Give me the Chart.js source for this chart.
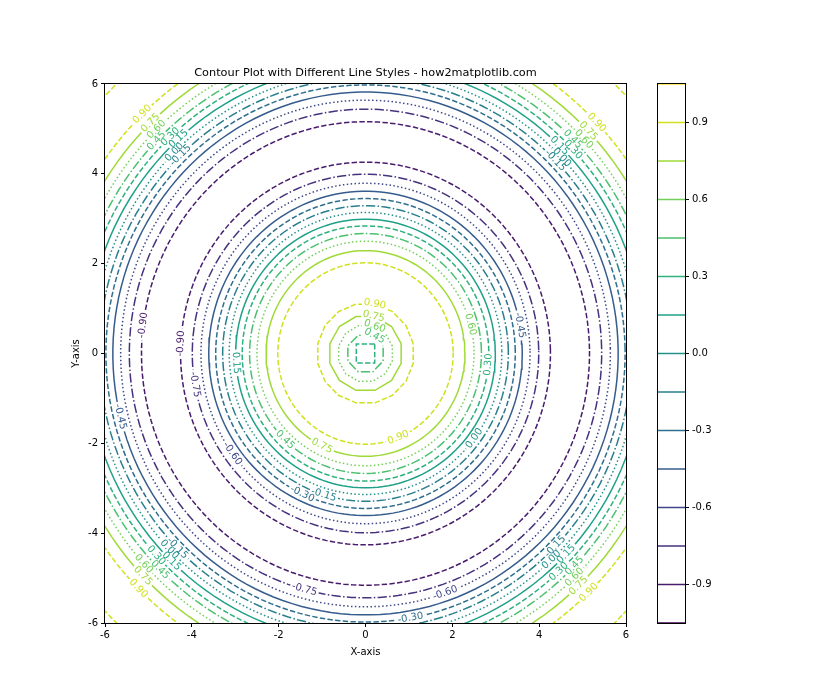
<!DOCTYPE html>
<html>
<head>
<meta charset="utf-8">
<script src="https://cdn.jsdelivr.net/npm/chart.js@4.4.1/dist/chart.umd.min.js"></script>
<style>
  body { margin: 0; background: #fff; }
  #wrap { position: relative; width: 840px; height: 700px; }
  #wrap canvas { position: absolute; left: 0; top: 0; }
</style>
</head>
<body>
<div id="wrap">
  <canvas id="main" width="840" height="700"></canvas>
  <canvas id="cbar" width="840" height="700"></canvas>
</div>
<script>
// contour levels and the radii where each level's ring sits
const levels = [-0.90, -0.75, -0.60, -0.45, -0.30, -0.15, 0.00, 0.15, 0.30, 0.45, 0.60, 0.75, 0.90];
const ringRadii = [
    [4.26, 5.16], [3.99, 5.44], [3.79, 5.64], [3.61, 5.82], [3.45, 5.98],
    [3.29, 6.13], [3.14, 6.28], [2.99, 6.43], [0.30, 2.84, 6.59],
    [0.44, 2.67, 6.75], [0.64, 2.50, 6.93], [0.85, 2.29, 7.13], [1.12, 2.02, 7.40, 8.30]
];
// colorbar range ends (levels not hit by the data)
const cbEnds = [-1.05, 1.05];
const xTicks = [-6, -4, -2, 0, 2, 4, 6];
const yTicks = [-6, -4, -2, 0, 2, 4, 6];
const cbTicks = [-0.9, -0.6, -0.3, 0.0, 0.3, 0.6, 0.9];

// inline labels: [level, ring radius, angle in degrees]
const contourLabels = [
    [0.90, 1.12, 79], [0.75, 0.85, 77], [0.60, 0.64, 71], [0.45, 0.44, 62],
    [0.90, 2.02, 292], [0.75, 2.29, 244], [0.60, 2.50, 15], [0.45, 2.67, 226],
    [0.30, 2.84, 355], [0.15, 2.99, 184], [0.00, 3.14, 323], [-0.15, 3.29, 253],
    [-0.30, 3.45, 245], [-0.45, 3.61, 10], [-0.60, 3.79, 216], [-0.75, 3.99, 190],
    [-0.90, 4.26, 177], [-0.90, 5.16, 173], [-0.75, 5.44, 255], [-0.60, 5.64, 289],
    [-0.45, 5.82, 194], [-0.30, 5.98, 280],
    // top left corner
    [0.90, 7.40, 134], [0.75, 7.13, 134], [0.60, 6.93, 134], [0.45, 6.75, 135.5],
    [0.30, 6.59, 133], [0.15, 6.43, 132], [0.00, 6.28, 134.5], [-0.15, 6.13, 134],
    // top right corner
    [0.90, 7.40, 44], [0.75, 7.13, 44], [0.60, 6.93, 43.5], [0.45, 6.75, 45],
    [0.30, 6.59, 43.5], [0.15, 6.43, 46], [0.00, 6.28, 44], [-0.15, 6.13, 44.5],
    // bottom right corner
    [0.90, 7.40, 314], [0.75, 7.13, 313.5], [0.60, 6.93, 314], [0.45, 6.75, 315.5],
    [0.30, 6.59, 312.5], [0.15, 6.43, 316], [0.00, 6.28, 313], [-0.15, 6.13, 315.5],
    // bottom left corner
    [0.90, 7.40, 225], [0.75, 7.13, 224], [0.60, 6.93, 222.5], [0.45, 6.75, 225.5],
    [0.30, 6.59, 223], [0.15, 6.43, 226], [0.00, 6.28, 224], [-0.15, 6.13, 225]
];

// viridis colours for -1.05 .. 1.05 (15 levels)
const viridis15 = ['#440154', '#481b6d', '#46327e', '#3f4788', '#365c8d', '#2e6e8e', '#277f8e',
    '#21918c', '#1fa188', '#2db27d', '#4ac16d', '#73d056', '#a0da39', '#d0e11c', '#fde725'];
const styleCycle = ['solid', 'dashed', 'dashdot', 'dotted'];
const dashes = { solid: [], dashed: [5.4, 2.3], dashdot: [9.3, 2.3, 1.5, 2.3], dotted: [1.5, 2.4] };

const FONT = 'DejaVu Sans';
Chart.defaults.font.family = FONT;
Chart.defaults.color = '#000';

function levelColor(v) {
    return viridis15[levels.indexOf(v) + 1];
}
function fmt(v) {
    let s = Math.abs(v).toFixed(2);
    return v < -0.001 ? '-' + s : s;
}

// ring outline as a polygon, coarse for the small centre rings like the gridded original
function ring(r) {
    let n = r < 0.35 ? 4 : r < 0.5 ? 8 : r < 1.0 ? 12 : r < 1.5 ? 16 : 160;
    let pts = [];
    for (let k = 0; k <= n; k++) {
        let t = Math.PI / n + 2 * Math.PI * k / n;
        pts.push({ x: r * Math.cos(t), y: r * Math.sin(t) });
    }
    return pts;
}

let datasets = [];
levels.forEach(function(v, i) {
    let style = styleCycle[(i + 1) % 4];
    ringRadii[i].forEach(function(r) {
        datasets.push({
            data: ring(r),
            borderColor: viridis15[i + 1],
            borderWidth: 1.5,
            borderDash: dashes[style],
            pointRadius: 0,
            tension: 0,
            clip: 0
        });
    });
});

const framePlugin = {
    id: 'frame',
    afterDraw(chart) {
        const a = chart.chartArea, ctx = chart.ctx;
        ctx.save();
        ctx.strokeStyle = '#000';
        ctx.lineWidth = 1;
        ctx.strokeRect(Math.round(a.left) - 0.5, Math.round(a.top) - 0.5, Math.round(a.right - a.left) + 1, Math.round(a.bottom - a.top) + 1);
        ctx.restore();
    }
};

const labelPlugin = {
    id: 'clabels',
    afterDatasetsDraw(chart) {
        const ctx = chart.ctx, xs = chart.scales.x, ys = chart.scales.y;
        const cx = xs.getPixelForValue(0), cy = ys.getPixelForValue(0);
        const sx = xs.getPixelForValue(1) - cx, sy = cy - ys.getPixelForValue(1);
        ctx.save();
        ctx.font = '10px ' + FONT;
        ctx.textAlign = 'center';
        ctx.textBaseline = 'middle';
        contourLabels.forEach(function(l) {
            const v = l[0], r = l[1], th = l[2] * Math.PI / 180;
            const px = xs.getPixelForValue(r * Math.cos(th));
            const py = ys.getPixelForValue(r * Math.sin(th));
            const txt = fmt(v);
            const w = ctx.measureText(txt).width;
            // break the ring under the label
            const half = (w / 2 + 2) / (r * (sx + sy) / 2);
            ctx.beginPath();
            ctx.ellipse(cx, cy, r * sx, r * sy, 0, -th - half, -th + half);
            ctx.strokeStyle = '#fff';
            ctx.lineWidth = r < 1.5 ? 6 : 4;
            ctx.stroke();
            let ang = Math.atan2(-r * Math.cos(th) * sy, -r * Math.sin(th) * sx);
            if (ang > Math.PI / 2) ang -= Math.PI;
            if (ang <= -Math.PI / 2) ang += Math.PI;
            ctx.save();
            ctx.translate(px, py);
            ctx.rotate(ang);
            ctx.fillStyle = levelColor(v);
            ctx.fillText(txt, 0, 0);
            ctx.restore();
        });
        ctx.restore();
    }
};

new Chart(document.getElementById('main'), {
    type: 'line',
    data: { datasets: datasets },
    options: {
        responsive: false,
        animation: false,
        events: [],
        layout: { padding: { left: 0, right: 214, top: 0, bottom: 37 } },
        scales: {
            x: {
                type: 'linear', min: -6, max: 6,
                afterBuildTicks: function(s) { s.ticks = xTicks.map(v => ({ value: v })); },
                afterFit: function(s) { s.height = 40; },
                grid: { drawOnChartArea: false, tickLength: 4, color: '#000' },
                border: { display: false },
                ticks: { font: { size: 10 }, padding: 2, maxRotation: 0 },
                title: { display: true, text: 'X-axis', font: { size: 10 }, padding: 5 }
            },
            y: {
                type: 'linear', min: -6, max: 6,
                afterBuildTicks: function(s) { s.ticks = yTicks.map(v => ({ value: v })); },
                afterFit: function(s) { s.width = 105; },
                grid: { drawOnChartArea: false, tickLength: 4, color: '#000' },
                border: { display: false },
                ticks: { font: { size: 10 }, padding: 3 },
                title: { display: true, text: 'Y-axis', font: { size: 10 }, padding: { top: 70, bottom: 2 } }
            }
        },
        plugins: {
            legend: { display: false },
            tooltip: { enabled: false },
            title: {
                display: true,
                text: 'Contour Plot with Different Line Styles - how2matplotlib.com',
                fullSize: false,
                font: { size: 11.3, weight: 'normal' },
                padding: { top: 66, bottom: 4.4 }
            }
        }
    },
    plugins: [labelPlugin, framePlugin]
});

// colorbar: one horizontal line per level
const cbLevels = [cbEnds[0]].concat(levels, [cbEnds[1]]);
new Chart(document.getElementById('cbar'), {
    type: 'line',
    data: {
        datasets: cbLevels.map(function(v, k) {
            return {
                data: [{ x: 0, y: v }, { x: 1, y: v }],
                borderColor: viridis15[k],
                borderWidth: 1.5,
                pointRadius: 0
            };
        })
    },
    options: {
        responsive: false,
        animation: false,
        events: [],
        layout: { padding: { left: 658, right: 115, top: 84, bottom: 77 } },
        scales: {
            x: { type: 'linear', min: 0, max: 1, display: false },
            y: {
                type: 'linear', position: 'right', min: cbEnds[0], max: cbEnds[1],
                afterBuildTicks: function(s) { s.ticks = cbTicks.map(v => ({ value: v })); },
                afterFit: function(s) { s.width = 40; },
                grid: { drawOnChartArea: false, tickLength: 4, color: '#000' },
                border: { display: false },
                ticks: { font: { size: 10 }, padding: 3, callback: v => v.toFixed(1) }
            }
        },
        plugins: { legend: { display: false }, tooltip: { enabled: false } }
    },
    plugins: [framePlugin]
});
</script>
</body>
</html>
